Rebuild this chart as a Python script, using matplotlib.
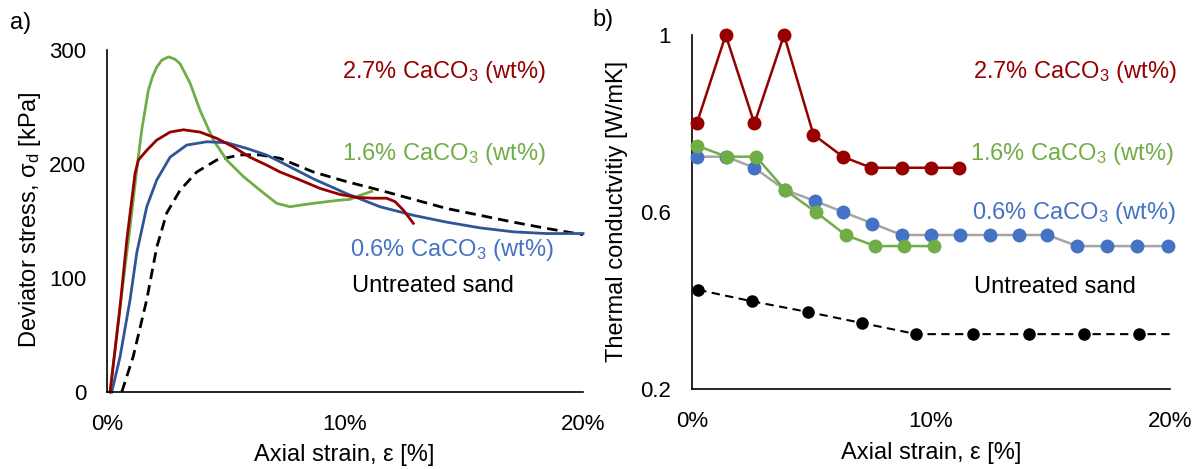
import matplotlib
matplotlib.use("Agg")
import matplotlib.pyplot as plt

plt.rcParams['font.family'] = ['Liberation Sans', 'DejaVu Sans']
plt.rcParams['mathtext.fontset'] = 'custom'
plt.rcParams['mathtext.rm'] = 'Liberation Sans'
plt.rcParams['mathtext.it'] = 'Liberation Sans:italic'

# ---------------- Panel a) deviator stress vs axial strain ----------------
a_green_x = [0.13, 0.55, 0.97, 1.25, 1.46, 1.74, 1.92, 2.09, 2.3, 2.58, 2.85, 3.07, 3.49, 3.91, 4.47,
             5.03, 5.73, 6.43, 7.13, 7.69, 7.83, 8.67, 9.65, 10.21, 10.7, 11.12]
a_green_y = [0, 75, 145, 195, 230, 265, 277, 285, 291, 294, 292, 288, 271, 247, 221,
             203.5, 189, 177, 165.5, 162.5, 163, 165.5, 168, 169, 173, 176]

a_red_x = [0.13, 0.55, 0.83, 1.18, 1.32, 1.67, 2.09, 2.65, 3.21, 3.91, 4.61, 5.31,
           6.0, 6.71, 7.27, 8.11, 8.95, 9.79, 10.49, 11.19, 11.75, 12.1, 12.45, 12.87]
a_red_y = [0, 75, 133, 192, 203.5, 212, 221, 228, 230, 228, 222.5, 215,
           206, 199, 193, 186, 178.6, 173.3, 170.7, 170, 170, 167, 159.6, 148]

a_blue_x = [0.2, 0.55, 0.97, 1.25, 1.67, 2.09, 2.65, 3.35, 4.19, 5.03, 5.87, 6.71,
            7.27, 8.67, 10.07, 11.47, 12.87, 14.27, 15.67, 17.07, 18.47, 20.0]
a_blue_y = [0, 31, 81, 122, 162.5, 186, 206, 216.6, 219.5, 218.7, 213.7, 207.8,
            202, 187, 174, 162.5, 155, 149, 144, 140.5, 139, 139]

a_black_x = [0.62, 1.1, 1.67, 2.09, 2.51, 3.07, 3.77, 4.61, 5.59, 6.43, 7.27, 8.67,
             10.07, 11.47, 12.87, 14.27, 15.67, 17.07, 18.47, 20.0]
a_black_y = [0, 31, 81, 127, 157, 177, 193, 203.5, 208, 208, 205, 193,
             184.5, 177, 169, 161, 155, 149, 143.5, 138]

a_xticks = [0, 10, 20]
a_xticklabels = ['0%', '10%', '20%']
a_yticks = [0, 100, 200, 300]

# ---------------- Panel b) thermal conductivity vs axial strain ----------------
b_red_x = [0.2, 1.41, 2.61, 3.85, 5.08, 6.31, 7.5, 8.78, 9.98, 11.19]
b_red_y = [0.8, 1.0, 0.8, 1.0, 0.775, 0.725, 0.7, 0.7, 0.7, 0.7]

b_green_x = [0.2, 1.45, 2.68, 3.89, 5.18, 6.43, 7.66, 8.88, 10.14]
b_green_y = [0.75, 0.725, 0.725, 0.65, 0.6, 0.548, 0.523, 0.523, 0.523]

b_blue_x = [0.2, 1.43, 2.61, 3.89, 5.14, 6.33, 7.55, 8.78, 9.98, 11.22, 12.47,
            13.69, 14.87, 16.12, 17.36, 18.64, 19.92]
b_blue_y = [0.725, 0.725, 0.7, 0.65, 0.625, 0.6, 0.574, 0.548, 0.548, 0.548, 0.548,
            0.548, 0.548, 0.523, 0.523, 0.523, 0.523]

b_black_x = [0.26, 2.53, 4.86, 7.12, 9.39, 11.75, 14.1, 16.4, 18.69, 20.0]
b_black_y = [0.424, 0.398, 0.374, 0.349, 0.324, 0.324, 0.324, 0.324, 0.324, 0.324]
b_black_marked = 9  # last point has no marker

b_xticks = [0, 10, 20]
b_xticklabels = ['0%', '10%', '20%']
b_yticks = [0.2, 0.6, 1.0]
b_yticklabels = ['0.2', '0.6', '1']

labels = [r'2.7% CaCO$_\mathregular{3}$ (wt%)', r'1.6% CaCO$_\mathregular{3}$ (wt%)',
          r'0.6% CaCO$_\mathregular{3}$ (wt%)', 'Untreated sand']

RED = '#960000'
GREEN = '#70AD47'
BLUE_DARK = '#2F5597'
BLUE = '#4472C4'
GREY = '#A5A5A5'

fig = plt.figure(figsize=(11.99, 4.69), dpi=100)
axa = fig.add_axes([107/1199, 77/469, 476/1199, 342/469])
axb = fig.add_axes([692/1199, 80/469, 478/1199, 354/469])

TICK_FS = 16
LAB_FS = 17

for ax in (axa, axb):
    for s in ('top', 'right'):
        ax.spines[s].set_visible(False)
    for s in ('left', 'bottom'):
        ax.spines[s].set_linewidth(1.2)
        ax.spines[s].set_color('black')
    ax.tick_params(axis='both', length=0, labelsize=TICK_FS)
    ax.tick_params(axis='x', pad=16)
    ax.tick_params(axis='y', pad=15)

# Panel a
axa.plot(a_black_x, a_black_y, color='black', lw=2.0, ls=(0, (3.8, 2.2)), clip_on=False)
axa.plot(a_green_x, a_green_y, color=GREEN, lw=2.0, clip_on=False)
axa.plot(a_blue_x, a_blue_y, color=BLUE_DARK, lw=2.0, clip_on=False)
axa.plot(a_red_x, a_red_y, color=RED, lw=2.0, clip_on=False)
axa.set_xlim(0, 20)
axa.set_ylim(0, 300)
axa.set_xticks(a_xticks)
axa.set_xticklabels(a_xticklabels)
axa.set_yticks(a_yticks)
axa.set_xlabel('Axial strain, ε [%]', fontsize=LAB_FS, va='center')
axa.set_ylabel(r'Deviator stress, σ$_\mathregular{d}$ [kPa]', fontsize=LAB_FS, va='center')
axa.xaxis.set_label_coords(0.498, (392 - 455) / 342)
axa.yaxis.set_label_coords((30 - 107) / 476, 0.503)
axa.text(9.89, 281, labels[0], color=RED, fontsize=LAB_FS, va='center', ha='left')
axa.text(9.89, 209, labels[1], color=GREEN, fontsize=LAB_FS, va='center', ha='left')
axa.text(10.2, 124.5, labels[2], color=BLUE, fontsize=LAB_FS, va='center', ha='left')
axa.text(10.28, 93, labels[3], color='black', fontsize=LAB_FS, va='center', ha='left')

# Panel b
axb.plot(b_black_x, b_black_y, color='black', lw=1.5, ls=(0, (4, 2.6)), marker='o',
         ms=8, markevery=list(range(b_black_marked)), clip_on=False, zorder=3)
axb.plot(b_blue_x, b_blue_y, color=GREY, lw=1.8, marker='o', ms=9, mfc=BLUE, mec=BLUE,
         clip_on=False, zorder=4)
axb.plot(b_green_x, b_green_y, color=GREEN, lw=1.8, marker='o', ms=9, clip_on=False, zorder=5)
axb.plot(b_red_x, b_red_y, color=RED, lw=1.8, marker='o', ms=9, clip_on=False, zorder=6)
axb.set_xlim(0, 20)
axb.set_ylim(0.2, 1.0)
axb.set_xticks(b_xticks)
axb.set_xticklabels(b_xticklabels)
axb.set_yticks(b_yticks)
axb.set_yticklabels(b_yticklabels)
axb.set_xlabel('Axial strain, ε [%]', fontsize=LAB_FS, va='center')
axb.set_ylabel('Thermal conductvitiy [W/mK]', fontsize=LAB_FS, va='center')
axb.xaxis.set_label_coords(0.5, (389 - 453) / 354)
axb.yaxis.set_label_coords((617 - 692) / 478, 0.503)
axb.text(11.75, 0.917, labels[0], color=RED, fontsize=LAB_FS, va='center', ha='left')
axb.text(11.64, 0.731, labels[1], color=GREEN, fontsize=LAB_FS, va='center', ha='left')
axb.text(11.70, 0.597, labels[2], color=BLUE, fontsize=LAB_FS, va='center', ha='left')
axb.text(11.8, 0.431, labels[3], color='black', fontsize=LAB_FS, va='center', ha='left')

fig.text(21/1199, 1 - 23/469, 'a)', fontsize=LAB_FS, ha='center', va='center')
fig.text(603/1199, 1 - 20/469, 'b)', fontsize=LAB_FS, ha='center', va='center')

fig.savefig('out.png', dpi=100)
